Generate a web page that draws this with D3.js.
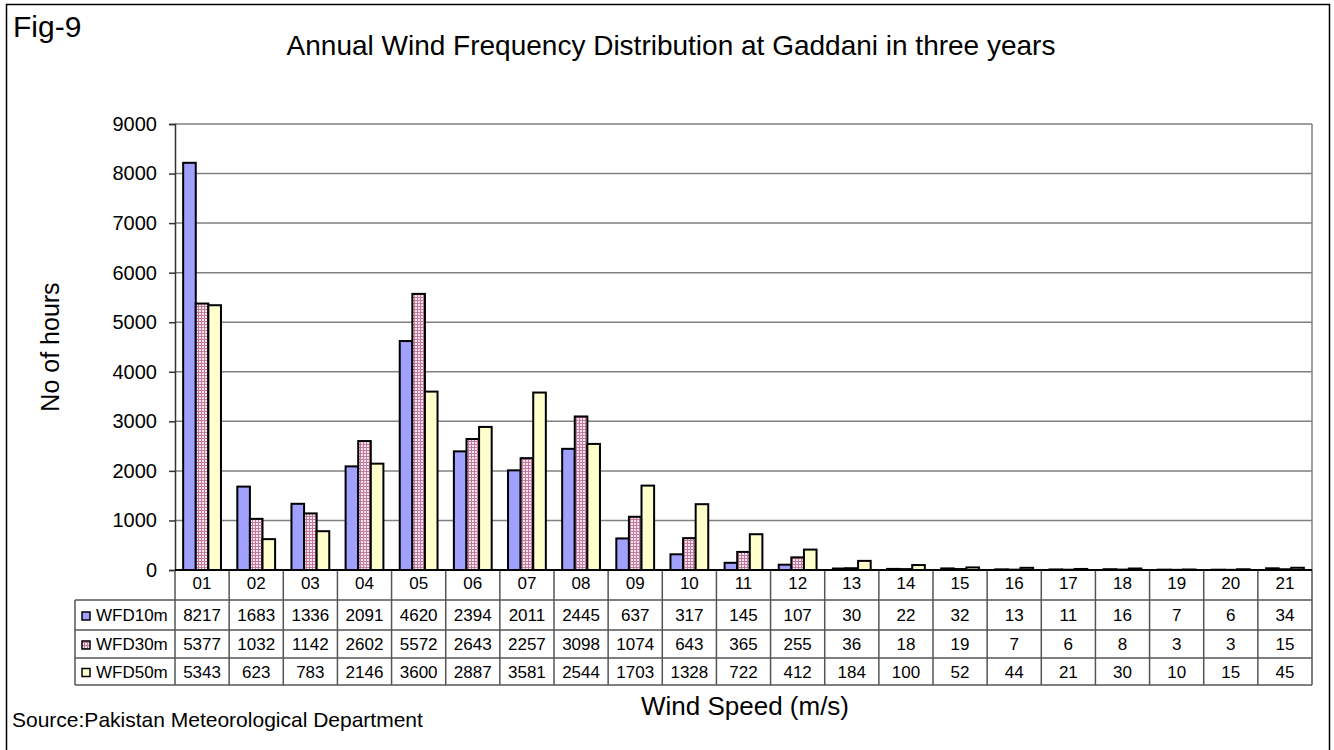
<!DOCTYPE html>
<html>
<head>
<meta charset="utf-8">
<script src="https://cdn.jsdelivr.net/npm/d3@7"></script>
<style>
  body { margin: 0; background: #fff; }
  svg text { font-family: "Liberation Sans", Arial, sans-serif; fill: #000; }
</style>
</head>
<body>
<script>
// data
let categories = ["01","02","03","04","05","06","07","08","09","10","11","12","13","14","15","16","17","18","19","20","21"]
let seriesNames = ["WFD10m", "WFD30m", "WFD50m"]
let wfd10 = [8217,1683,1336,2091,4620,2394,2011,2445,637,317,145,107,30,22,32,13,11,16,7,6,34]
let wfd30 = [5377,1032,1142,2602,5572,2643,2257,3098,1074,643,365,255,36,18,19,7,6,8,3,3,15]
let wfd50 = [5343,623,783,2146,3600,2887,3581,2544,1703,1328,722,412,184,100,52,44,21,30,10,15,45]
let yTicks = [0,1000,2000,3000,4000,5000,6000,7000,8000,9000]

let series = [wfd10, wfd30, wfd50]
let fills = ["#a0a0ff", "url(#checker)", "#ffffcc"]

let w = 1334, h = 750
let plotLeft = 175, plotRight = 1312, plotTop = 124, plotBottom = 570
let tableLeft = 75
// row boundaries of the data table (category row, then one row per series)
let rowLines = [570, 600, 630, 658, 685]

let svg = d3.select("body").append("svg")
    .attr("width", w)
    .attr("height", h)

let defs = svg.append("defs")
let pat = defs.append("pattern")
    .attr("id", "checker")
    .attr("width", 3).attr("height", 3)
    .attr("patternUnits", "userSpaceOnUse")
pat.append("rect").attr("width", 3).attr("height", 3).attr("fill", "#f6e4ee")
pat.append("rect").attr("width", 3).attr("height", 1).attr("fill", "#c27a9c")
pat.append("rect").attr("width", 1).attr("height", 3).attr("fill", "#c27a9c")

// outer frame
svg.append("rect")
    .attr("x", 6.5).attr("y", 4.5)
    .attr("width", 1323).attr("height", 760)
    .attr("fill", "none").attr("stroke", "#000").attr("stroke-width", 1.5)

svg.append("text").attr("x", 13).attr("y", 37)
    .attr("font-size", 30).text("Fig-9")
svg.append("text").attr("x", 671).attr("y", 55)
    .attr("text-anchor", "middle").attr("font-size", 28)
    .text("Annual Wind Frequency Distribution at Gaddani in three years")

let xScale = d3.scaleBand().domain(categories).range([plotLeft, plotRight])
let barW = 12.6
let off = (xScale.bandwidth() - barW * 3) / 2
let yScale = d3.scaleLinear().domain([0, 9000]).range([plotBottom, plotTop])

// gridlines + plot border
svg.append("g").selectAll("line")
    .data(yTicks.slice(1))
    .enter().append("line")
    .attr("x1", plotLeft).attr("x2", plotRight)
    .attr("y1", d => yScale(d)).attr("y2", d => yScale(d))
    .attr("stroke", "#808080").attr("stroke-width", 1.5)
svg.append("line")
    .attr("x1", plotRight).attr("x2", plotRight).attr("y1", plotTop).attr("y2", plotBottom)
    .attr("stroke", "#808080").attr("stroke-width", 1.5)

// y axis
let yAxis = d3.axisLeft(yScale).tickValues(yTicks).tickFormat(d3.format("d")).tickSize(6).tickPadding(12)
let ya = svg.append("g")
    .attr("transform", "translate(" + plotLeft + ",0)")
    .call(yAxis)
ya.select(".domain").attr("stroke", "#333").attr("stroke-width", 1.5)
ya.selectAll(".tick line").attr("stroke", "#333").attr("stroke-width", 1.5)
ya.selectAll("text").attr("font-size", 20).attr("font-family", "Liberation Sans, Arial, sans-serif")

svg.append("text")
    .attr("transform", "translate(59,347) rotate(-90)")
    .attr("text-anchor", "middle").attr("font-size", 25)
    .text("No of hours")

// bars
series.forEach((vals, si) => {
    svg.append("g").selectAll("rect")
        .data(vals)
        .enter().append("rect")
        .attr("x", (d, i) => xScale(categories[i]) + off + si * barW)
        .attr("y", d => yScale(d))
        .attr("width", barW)
        .attr("height", d => plotBottom - yScale(d))
        .attr("fill", fills[si])
        .attr("stroke", "#000").attr("stroke-width", 2)
})

// data table
let tbl = svg.append("g").attr("font-size", 17)
let lineCol = "#555"
let y0 = rowLines[0], y4 = rowLines[4]

// category row
tbl.selectAll(".cat")
    .data(categories)
    .enter().append("text")
    .attr("x", d => xScale(d) + xScale.bandwidth() / 2)
    .attr("y", y0 + 19)
    .attr("text-anchor", "middle")
    .text(d => d)

// vertical lines
let vx = categories.map(d => xScale(d)).concat([plotRight])
tbl.selectAll(".vl")
    .data(vx)
    .enter().append("line")
    .attr("x1", d => d).attr("x2", d => d)
    .attr("y1", y0).attr("y2", y4)
    .attr("stroke", lineCol).attr("stroke-width", 1.5)
tbl.append("line")
    .attr("x1", tableLeft).attr("x2", tableLeft).attr("y1", rowLines[1]).attr("y2", y4)
    .attr("stroke", lineCol).attr("stroke-width", 1.5)
// horizontal lines
tbl.append("line").attr("x1", plotLeft).attr("x2", plotRight).attr("y1", y0).attr("y2", y0)
    .attr("stroke", "#000").attr("stroke-width", 2)
rowLines.slice(1).forEach(yy => {
    tbl.append("line").attr("x1", tableLeft).attr("x2", plotRight).attr("y1", yy).attr("y2", yy)
        .attr("stroke", lineCol).attr("stroke-width", 1.5)
})

series.forEach((vals, si) => {
    let base = (rowLines[si + 1] + rowLines[si + 2]) / 2 + 6
    tbl.append("rect")
        .attr("x", 82).attr("y", base - 9)
        .attr("width", 8).attr("height", 8)
        .attr("fill", fills[si]).attr("stroke", "#000").attr("stroke-width", 1.5)
    tbl.append("text")
        .attr("x", 96).attr("y", base)
        .text(seriesNames[si])
    tbl.selectAll(".v" + si)
        .data(vals)
        .enter().append("text")
        .attr("x", (d, i) => xScale(categories[i]) + xScale.bandwidth() / 2)
        .attr("y", base)
        .attr("text-anchor", "middle")
        .text(d => d)
})

svg.append("text").attr("x", 745).attr("y", 715)
    .attr("text-anchor", "middle").attr("font-size", 26)
    .text("Wind Speed (m/s)")
svg.append("text").attr("x", 12).attr("y", 727)
    .attr("font-size", 21)
    .text("Source:Pakistan Meteorological Department")
</script>
</body>
</html>
